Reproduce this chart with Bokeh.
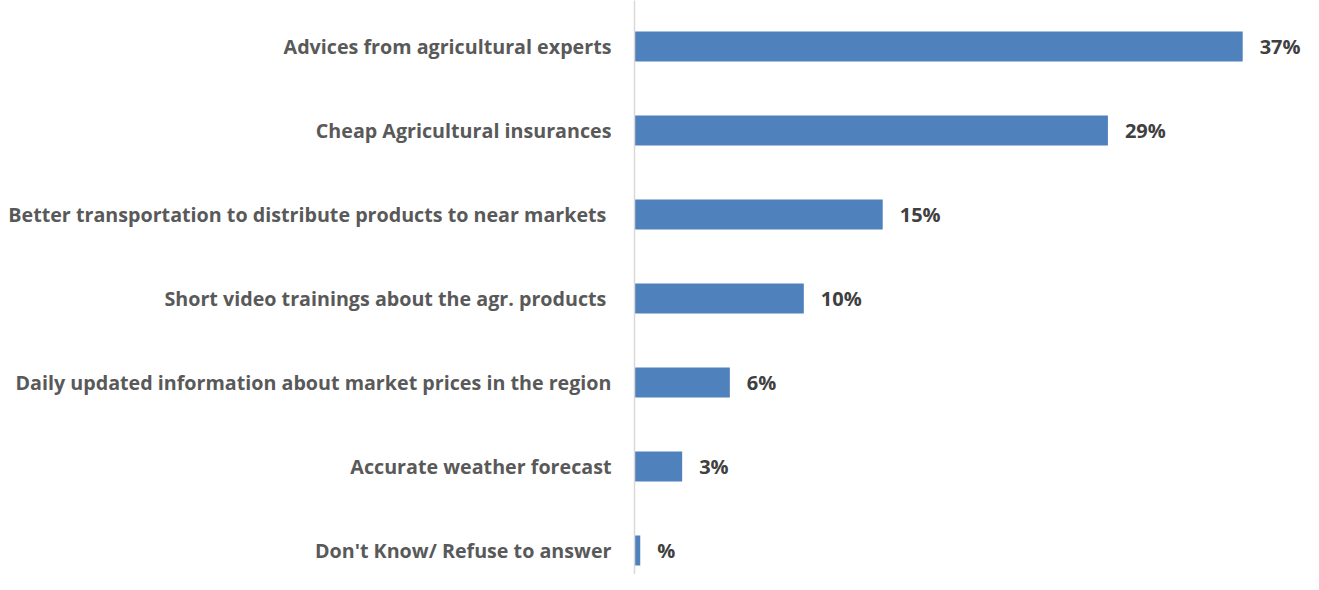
from bokeh.plotting import figure
from bokeh.models import Range1d, ColumnDataSource, LabelSet, FixedTicker
from bokeh.core.properties import value
from bokeh.embed import file_html
from bokeh.resources import INLINE

categories = [
    "Advices from agricultural experts",
    "Cheap Agricultural insurances",
    "Better transportation to distribute products to near markets ",
    "Short video trainings about the agr. products ",
    "Daily updated information about market prices in the region",
    "Accurate weather forecast",
    "Don't Know/ Refuse to answer",
]
values = [37.0, 28.8, 15.1, 10.3, 5.8, 2.9, 0.35]
value_labels = ["37%", "29%", "15%", "10%", "6%", "3%", "%"]

BAR = "#4F81BD"
CAT_COLOR = "#595959"
VAL_COLOR = "#404040"
FONT = "Open Sans"

W, H = 1303, 574
LEFT = 634
FIRST_CENTER = 46.0
PITCH = 84.0
BAR_PX = 30.0

n = len(categories)
positions = list(range(n))

y_top = -FIRST_CENTER / PITCH
y_bottom = (H - FIRST_CENTER) / PITCH
px_per_unit = (1242.7 - 634.5) / 37.0
x_end = (W - LEFT) / px_per_unit

p = figure(width=W, height=H,
           y_range=Range1d(start=y_bottom, end=y_top),
           x_range=Range1d(0, x_end),
           output_backend="svg", toolbar_location=None,
           min_border_left=LEFT, min_border_right=0, min_border_top=0,
           min_border_bottom=0)

src = ColumnDataSource(dict(pos=positions, cat=categories, val=values,
                            lab=value_labels))
p.hbar(y="pos", right="val", left=0, height=BAR_PX / PITCH, source=src,
       fill_color=BAR, line_color=None)

labels = LabelSet(x="val", y="pos", text="lab", source=src, x_offset=17,
                  text_align="left", text_baseline="middle",
                  text_font=value(FONT), text_font_style="bold",
                  text_font_size=value("20px"), text_color=VAL_COLOR)
p.add_layout(labels)

p.xaxis.visible = False
p.xgrid.visible = False
p.ygrid.visible = False
p.outline_line_color = None

ax = p.yaxis[0]
ax.ticker = FixedTicker(ticks=positions)
ax.major_label_overrides = {i: c for i, c in zip(positions, categories)}
ax.axis_line_color = "#D9D9D9"
ax.axis_line_width = 1.5
ax.major_tick_line_color = None
ax.minor_tick_line_color = None
ax.major_tick_out = 0
ax.major_tick_in = 0
ax.minor_tick_out = 0
ax.major_label_standoff = 23
ax.major_label_text_font = FONT
ax.major_label_text_font_style = "bold"
ax.major_label_text_font_size = "19.7px"
ax.major_label_text_color = CAT_COLOR

open("out.html", "w").write(file_html(p, INLINE))
